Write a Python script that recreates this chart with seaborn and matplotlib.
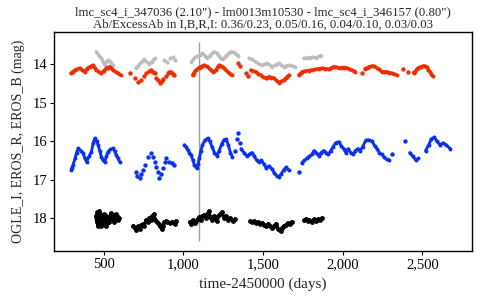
import numpy as np
import pandas as pd
import matplotlib
matplotlib.use('Agg')
import matplotlib.pyplot as plt
import seaborn as sns
from matplotlib.ticker import FuncFormatter

# light curves (time-2450000, mag); each inner list is one continuous run
gray_t = [[454, 470, 486, 498, 506, 516, 527, 538, 548, 556],
          [700, 715, 730, 745, 756, 770, 787, 800, 815, 825],
          [1050, 1062, 1075, 1090, 1105, 1120, 1135, 1150, 1165, 1180, 1195, 1210, 1225, 1240, 1255,
           1270, 1285, 1300, 1315, 1330, 1345],
          [1412, 1430, 1454, 1475, 1496, 1512, 1527, 1542, 1558, 1580, 1600, 1615, 1631, 1647, 1662,
           1680, 1700],
          [1756, 1775, 1795, 1815, 1835, 1850, 1866]]
gray_mag = [[13.68, 13.78, 13.85, 13.95, 14.03, 13.95, 13.9, 13.93, 13.98, 14.03],
            [14.1, 14.05, 13.98, 13.92, 13.88, 13.95, 14.0, 13.95, 13.88, 13.85],
            [13.95, 13.88, 13.82, 13.8, 13.76, 13.72, 13.78, 13.85, 13.8, 13.72, 13.68, 13.72, 13.8,
             13.88, 13.85, 13.78, 13.72, 13.68, 13.7, 13.75, 13.78],
            [13.85, 13.88, 13.94, 14.0, 14.03, 14.0, 13.98, 14.03, 14.07, 14.02, 13.98, 14.03, 14.07,
             14.05, 14.03, 14.05, 14.07],
            [13.85, 13.84, 13.83, 13.82, 13.84, 13.8, 13.78]]
gray_dot_t = [880, 900, 918, 935, 950]
gray_dot_mag = [13.9, 13.95, 13.85, 13.82, 13.9]

red_t = [[294, 306, 319, 335, 350, 365, 381, 396, 412, 423, 433, 444, 454, 470, 486, 500, 517,
          527, 537, 548, 558, 574, 590, 606],
         [1058, 1068, 1079, 1095, 1110, 1120, 1131, 1142, 1152, 1168, 1183, 1194, 1204, 1215, 1225,
          1236, 1246, 1262, 1277, 1292, 1308],
         [1423, 1438, 1454, 1470, 1485, 1500, 1517, 1527, 1537, 1553, 1569, 1585, 1600, 1615, 1631,
          1642, 1652, 1662],
         [1725, 1736, 1746, 1766, 1787, 1808, 1829, 1850, 1871, 1892, 1912, 1928, 1944, 1960, 1975,
          1996, 2017, 2038, 2058, 2070, 2079],
         [2140, 2152, 2168, 2183, 2199, 2215, 2230, 2246, 2262, 2277, 2292, 2308, 2324, 2340],
         [2445, 2454, 2465, 2475, 2490, 2506, 2517, 2527, 2538, 2548, 2556, 2564]]
red_mag = [[14.24, 14.2, 14.16, 14.13, 14.11, 14.15, 14.2, 14.12, 14.07, 14.05, 14.03, 14.1, 14.16,
            14.2, 14.24, 14.18, 14.11, 14.09, 14.07, 14.1, 14.16, 14.2, 14.24, 14.29],
           [14.29, 14.22, 14.16, 14.1, 14.07, 14.05, 14.03, 14.05, 14.07, 14.14, 14.2, 14.18, 14.16,
            14.08, 14.03, 14.05, 14.07, 14.14, 14.2, 14.25, 14.29],
           [14.16, 14.18, 14.2, 14.25, 14.29, 14.33, 14.37, 14.35, 14.33, 14.35, 14.37, 14.43, 14.48,
            14.45, 14.42, 14.37, 14.33, 14.29],
           [14.29, 14.24, 14.2, 14.18, 14.17, 14.15, 14.14, 14.12, 14.11, 14.12, 14.14, 14.1, 14.07,
            14.08, 14.1, 14.09, 14.09, 14.12, 14.16, 14.18, 14.2],
           [14.12, 14.1, 14.07, 14.05, 14.06, 14.1, 14.14, 14.2, 14.2, 14.2, 14.22, 14.24, 14.26, 14.29],
           [14.22, 14.2, 14.14, 14.1, 14.07, 14.05, 14.05, 14.08, 14.15, 14.2, 14.26, 14.31]]
red_dot_t = [667, 694, 715, 735, 752, 767, 783, 798, 808, 819, 830, 840, 854, 865, 875, 890, 902,
             912, 923, 935, 944, 1340, 1356, 1392, 1408, 2121, 2381, 2412]
red_dot_mag = [14.24, 14.37, 14.46, 14.42, 14.32, 14.24, 14.18, 14.16, 14.2, 14.24, 14.35, 14.42,
               14.5, 14.44, 14.38, 14.3, 14.24, 14.2, 14.2, 14.25, 14.29, 13.97, 14.05, 14.24,
               14.31, 14.24, 14.14, 14.2]

blue_t = [[296, 300, 308, 320, 330, 340, 355, 371, 382, 392, 408, 423, 434, 444, 455, 465, 475,
           485, 496, 506, 517, 527, 542, 558, 568, 579, 590, 600],
          [1006, 1017, 1027, 1038, 1048, 1060, 1069, 1083, 1092, 1100, 1110, 1120, 1135, 1152, 1165,
           1180, 1195, 1210, 1225, 1240, 1255, 1268, 1282, 1295, 1308],
          [1362, 1380, 1400, 1415, 1430, 1445, 1460, 1475, 1490, 1505, 1520, 1537, 1555, 1570, 1585,
           1600, 1615, 1630, 1645, 1660],
          [1744, 1760, 1775, 1790, 1806, 1820, 1835, 1850, 1865, 1880, 1895, 1910, 1925, 1940, 1955,
           1975, 1990, 2005, 2020, 2035, 2050, 2065, 2080, 2095, 2110, 2125, 2145, 2165, 2183, 2200,
           2215, 2230, 2245, 2260, 2275, 2290],
          [2420, 2440, 2460, 2475],
          [2520, 2540, 2556, 2575, 2590, 2610, 2630, 2650, 2675]]
blue_mag = [[16.75, 16.7, 16.62, 16.45, 16.3, 16.19, 16.25, 16.32, 16.45, 16.54, 16.4, 16.28, 16.05,
             15.93, 16.0, 16.1, 16.25, 16.41, 16.5, 16.54, 16.4, 16.28, 16.22, 16.19, 16.26, 16.36,
             16.45, 16.54],
            [16.1, 16.15, 16.23, 16.3, 16.36, 16.5, 16.62, 16.71, 16.6, 16.45, 16.25, 16.1, 15.98,
             15.93, 16.0, 16.15, 16.3, 16.38, 16.25, 16.08, 15.97, 15.95, 16.1, 16.3, 16.42],
            [16.2, 16.3, 16.4, 16.35, 16.3, 16.4, 16.5, 16.55, 16.5, 16.6, 16.7, 16.65, 16.72, 16.82,
             16.9, 16.93, 16.85, 16.75, 16.68, 16.75],
            [16.57, 16.5, 16.45, 16.4, 16.35, 16.25, 16.3, 16.38, 16.3, 16.25, 16.3, 16.35, 16.25,
             16.15, 16.05, 16.02, 16.12, 16.2, 16.3, 16.2, 16.3, 16.35, 16.25, 16.2, 16.25, 16.15,
             15.98, 15.97, 16.0, 16.12, 16.2, 16.3, 16.35, 16.42, 16.48, 16.5],
            [16.3, 16.4, 16.5, 16.45],
            [16.25, 16.1, 15.95, 15.9, 16.0, 16.1, 16.05, 16.1, 16.2]]
blue_dot_t = [700, 712, 725, 736, 746, 762, 777, 798, 808, 819, 830, 840, 850, 860, 870, 882, 892,
              912, 928, 944, 1322, 1335, 1345, 1355, 1725, 2310, 2393]
blue_dot_mag = [16.8, 16.9, 16.96, 16.85, 16.76, 16.62, 16.41, 16.32, 16.42, 16.54, 16.68, 16.8,
                16.97, 16.85, 16.71, 16.55, 16.45, 16.54, 16.58, 16.62, 16.25, 15.95, 15.8, 16.05,
                16.8, 16.35, 16.0]

black_t = [[450, 455, 460, 462, 465, 470, 472, 475, 480, 485, 488, 490, 495, 500, 502, 505, 510,
            512, 515, 520, 525, 530, 535, 540, 545, 550, 560, 565, 570, 580, 585, 590, 598],
           [685, 695, 705, 715, 725, 735, 745, 755, 765, 775, 785, 795, 805, 815, 825, 835, 845, 855,
            865, 872, 880, 890, 900, 915, 930, 945, 955],
           [1040, 1050, 1060, 1070, 1080, 1090, 1100, 1110, 1120, 1130, 1140, 1150, 1160, 1170, 1180,
            1190, 1200, 1210, 1220, 1230, 1244, 1255, 1265, 1280, 1295, 1310, 1325],
           [1420, 1432, 1445, 1458, 1470, 1483, 1495, 1508, 1520, 1533, 1545, 1558, 1570, 1583, 1595,
            1605, 1612, 1620, 1632, 1645, 1655, 1668, 1680],
           [1760, 1770, 1780, 1790, 1805, 1820, 1835, 1848, 1860, 1868]]
black_mag = [[17.95, 18.1, 17.85, 18.2, 18.0, 18.15, 17.82, 17.9, 18.05, 18.2, 18.12, 17.95, 18.1,
              18.0, 17.9, 18.18, 17.92, 18.2, 18.05, 18.12, 17.98, 18.08, 18.1, 17.95, 17.88, 18.02,
              17.92, 18.1, 18.0, 17.9, 17.95, 18.05, 18.0],
             [18.2, 18.25, 18.3, 18.22, 18.28, 18.18, 18.15, 18.2, 18.05, 18.1, 18.0, 18.05, 17.95,
              17.9, 18.05, 18.1, 18.15, 18.2, 18.28, 18.22, 18.1, 18.08, 18.1, 18.12, 18.1, 18.15,
              18.08],
             [18.1, 18.15, 18.05, 18.12, 18.08, 18.02, 17.98, 18.05, 17.95, 17.92, 18.0, 17.9, 17.82,
              17.98, 18.05, 17.95, 18.0, 18.08, 17.95, 17.9, 17.84, 18.0, 17.95, 18.05, 18.0, 18.08,
              18.02],
             [18.08, 18.1, 18.08, 18.12, 18.1, 18.15, 18.12, 18.18, 18.2, 18.15, 18.22, 18.25, 18.2,
              18.15, 18.28, 18.32, 18.35, 18.25, 18.2, 18.18, 18.12, 18.15, 18.1],
             [18.05, 18.02, 18.08, 18.05, 18.1, 18.03, 18.08, 18.02, 18.06, 18.0]]

event_t = 1100
x_ticks = [500, 1000, 1500, 2000, 2500]
y_ticks = [14, 15, 16, 17, 18]
title = ('lmc_sc4_i_347036 (2.10") - lm0013m10530 - lmc_sc4_i_346157 (0.80")\n'
         'Ab/ExcessAb in I,B,R,I: 0.36/0.23, 0.05/0.16, 0.04/0.10, 0.03/0.03')


def runs_df(ts, ms):
    rows = []
    for i, (tt, mm) in enumerate(zip(ts, ms)):
        for a, b in zip(tt, mm):
            rows.append((a, b, i))
    return pd.DataFrame(rows, columns=['t', 'mag', 'seg'])


sns.set_style('white')
plt.rcParams['font.family'] = ['Liberation Serif', 'DejaVu Serif']

fig = plt.figure(figsize=(4.8, 3.0), dpi=100)
ax = fig.add_axes([0.1125, 0.163, 0.871, 0.730])

series = [
    (gray_t, gray_mag, gray_dot_t, gray_dot_mag, '#bdbdbd', 2.3, 7),
    (red_t, red_mag, red_dot_t, red_dot_mag, '#ee2d00', 2.4, 8),
    (blue_t, blue_mag, blue_dot_t, blue_dot_mag, '#0a30f0', 2.1, 8),
    (black_t, black_mag, [], [], 'black', 2.2, 12),
]
for ts, ms, dt, dm, col, lw, s in series:
    df = runs_df(ts, ms)
    sns.lineplot(data=df, x='t', y='mag', units='seg', estimator=None, sort=False,
                 color=col, lw=lw, ax=ax)
    sns.scatterplot(data=df, x='t', y='mag', color=col, s=s, linewidth=0, ax=ax)
    if dt:
        sns.scatterplot(x=dt, y=dm, color=col, s=s + 2, linewidth=0, ax=ax)

ax.vlines(event_t, 13.43, 18.6, color='#a0a0a0', lw=1.0, zorder=0)

ax.set_xlim(188, 2812)
ax.set_ylim(18.86, 13.17)
ax.set_xticks(x_ticks)
ax.set_yticks(y_ticks)
ax.xaxis.set_major_formatter(FuncFormatter(lambda v, _: f'{v:,.0f}'))
ax.tick_params(axis='both', direction='out', length=3, width=0.8, labelsize=10.5, pad=2,
               bottom=True, left=True, colors='black')
for sp in ax.spines.values():
    sp.set_color('black')
    sp.set_linewidth(1.0)

ax.set_xlabel('time-2450000 (days)', fontsize=11, labelpad=5)
ax.set_ylabel('OGLE_I, EROS_R, EROS_B (mag)', fontsize=10, labelpad=5)
ax.set_title(title, fontsize=9.2, pad=3, linespacing=1.05)

fig.savefig('out.png', dpi=100)
